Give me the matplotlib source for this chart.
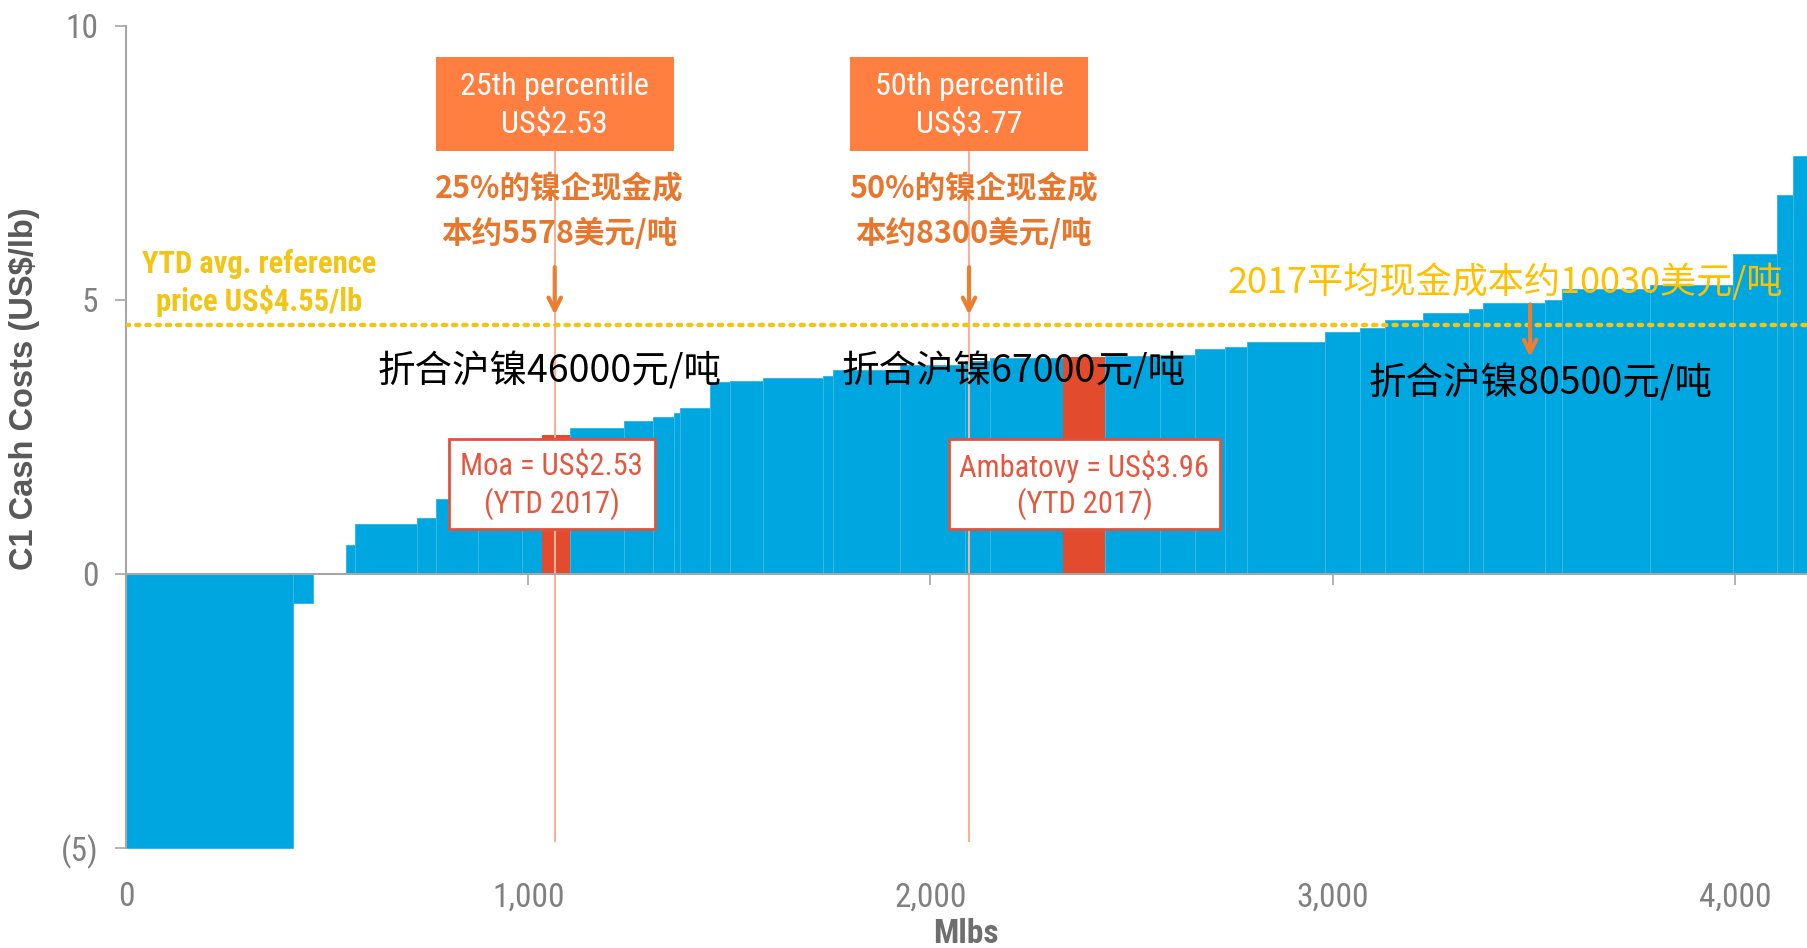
import matplotlib
matplotlib.use("Agg")
import matplotlib.pyplot as plt
import numpy as np
from matplotlib import font_manager
from matplotlib.patches import Rectangle

# ---- data -------------------------------------------------------------
capacity = [414, 50, 83, 23, 154, 48, 103, 109, 50, 71, 133, 73, 51, 15, 75,
            50, 83, 149, 25, 165, 162, 62, 181, 106, 136, 87, 75, 53, 195, 87,
            62, 96, 112, 37, 153, 42, 219, 207, 108, 41, 40]          # Mlbs
cash_cost = [-5.0, -0.53, 0.0, 0.53, 0.92, 1.02, 1.36, 1.70, 2.20, 2.53, 2.66,
             2.79, 2.86, 2.94, 3.03, 3.51, 3.53, 3.58, 3.61, 3.73, 3.82, 3.88,
             3.94, 3.96, 3.98, 4.00, 4.11, 4.15, 4.24, 4.42, 4.48, 4.64, 4.77,
             4.84, 4.94, 5.00, 5.20, 5.28, 5.83, 6.92, 7.63]             # US$/lb
highlight_idx = [9, 23]
highlight_names = ["Moa", "Ambatovy"]

pct_x = [1066, 2096]
pct_titles = ["25th percentile", "50th percentile"]
pct_values = [2.53, 3.77]
pct_cn = ["25%的镍企现金成\n本约5578美元/吨", "50%的镍企现金成\n本约8300美元/吨"]
shfe_labels = ["折合沪镍46000元/吨", "折合沪镍67000元/吨", "折合沪镍80500元/吨"]
ref_price = 4.55
avg_cn = "2017平均现金成本约10030美元/吨"

x_ticks = [0, 1000, 2000, 3000, 4000]
x_ticklabels = ["0", "1,000", "2,000", "3,000", "4,000"]
y_ticks = [-5, 0, 5, 10]
y_ticklabels = ["(5)", "0", "5", "10"]

# ---- styling ----------------------------------------------------------
names = {f.name for f in font_manager.fontManager.ttflist}
NARROW = "Roboto Condensed" if "Roboto Condensed" in names else "Liberation Sans"
CJK = ["Noto Sans CJK SC", "DejaVu Sans"]

BLUE = "#00A6DF"
BLUE_EDGE = "#35B9E8"
RED = "#E24B2D"
ORANGE_BOX = "#FF7F41"
ORANGE_TXT = "#E8772E"
ARROW = "#ED7D31"
PCT_LINE = "#F7B196"
YELLOW = "#F2C414"
YELLOW_CN = "#FFC000"
GRAY = "#808080"
AXIS = "#A6A6A6"

W, H = 1808, 948
fig = plt.figure(figsize=(W / 100, H / 100), dpi=100)
ax = fig.add_axes([126 / W, 0.1026, 1 - 126 / W, 0.8700])

lefts = np.concatenate([[0], np.cumsum(capacity)[:-1]])
colors = [RED if i in highlight_idx else BLUE for i in range(len(capacity))]
edges = [RED if i in highlight_idx else BLUE_EDGE for i in range(len(capacity))]
ax.bar(lefts, cash_cost, width=capacity, align="edge", color=colors,
       edgecolor=edges, linewidth=0.7, zorder=2)

ax.set_xlim(0, 4182)
ax.set_ylim(-5.05, 10)

# spines and ticks
for s in ["top", "right"]:
    ax.spines[s].set_visible(False)
ax.spines["left"].set_color(AXIS)
ax.spines["left"].set_linewidth(1.5)
ax.spines["left"].set_bounds(-5, 10)
ax.spines["bottom"].set_position(("data", 0))
ax.spines["bottom"].set_color(AXIS)
ax.spines["bottom"].set_linewidth(1.5)
ax.spines["bottom"].set_zorder(3)
ax.set_xticks(x_ticks)
ax.set_xticklabels([])
ax.tick_params(axis="x", direction="out", length=8, width=1.2, color=AXIS)
ax.set_yticks(y_ticks)
ax.set_yticklabels(y_ticklabels, fontfamily=NARROW, fontsize=24, color=GRAY)
ax.tick_params(axis="y", direction="out", length=8, width=1.2, color=AXIS, pad=12)

sec = ax.secondary_xaxis("bottom")
sec.set_xticks(x_ticks)
sec.set_xticklabels(x_ticklabels, fontfamily=NARROW, fontsize=24, color=GRAY)
sec.tick_params(length=0, pad=22)
sec.spines["bottom"].set_visible(False)

fig.text(966 / W, 1 - 934 / H, "Mlbs", fontfamily=NARROW, fontsize=24,
         fontweight="bold", color="#6E6E6E", ha="center", va="center")
fig.text(25 / W, 1 - 389 / H, "C1 Cash Costs (US$/lb)", fontfamily="Liberation Sans",
         fontsize=23.5, fontweight="bold", color="#595959", rotation=90,
         ha="center", va="center")

# reference price line
ax.axhline(ref_price, color=YELLOW, linewidth=3.2, linestyle=(0, (0.7, 1.6)),
           dash_capstyle="round", zorder=4)
ax.text(331, 5.65, "YTD avg. reference", fontfamily=NARROW, fontsize=22,
        fontweight="bold", color=YELLOW, ha="center", va="center", zorder=6)
ax.text(331, 4.99, "price US$4.55/lb", fontfamily=NARROW, fontsize=22,
        fontweight="bold", color=YELLOW, ha="center", va="center", zorder=6)

# percentile markers
box_half = 296
for px, title, val, cn in zip(pct_x, pct_titles, pct_values, pct_cn):
    ax.plot([px, px], [-4.88, 7.72], color=PCT_LINE, linewidth=1.5, zorder=3)
    ax.add_patch(Rectangle((px - box_half, 7.72), 2 * box_half, 1.71,
                           facecolor=ORANGE_BOX, edgecolor="none", zorder=5))
    ax.text(px, 8.90, title, fontfamily=NARROW, fontsize=23, color="white",
            ha="center", va="center", zorder=6)
    ax.text(px, 8.21, f"US${val:.2f}", fontfamily=NARROW, fontsize=23,
            color="white", ha="center", va="center", zorder=6)
    line1, line2 = cn.split("\n")
    ax.text(px + 12, 7.01, line1, family=CJK, fontsize=22, fontweight="bold",
            color=ORANGE_TXT, ha="center", va="center", zorder=6)
    ax.text(px + 12, 6.21, line2, family=CJK, fontsize=22, fontweight="bold",
            color=ORANGE_TXT, ha="center", va="center", zorder=6)
    ax.annotate("", xy=(px, 4.68), xytext=(px, 5.65),
                arrowprops=dict(arrowstyle="->,head_length=0.9,head_width=0.45",
                                color=ARROW, lw=3), zorder=6)

# highlighted mine labels
label_boxes = [(802, 1315), (2046, 2720)]
for idx, name, (x0, x1) in zip(highlight_idx, highlight_names, label_boxes):
    ax.add_patch(Rectangle((x0, 0.82), x1 - x0, 1.65, facecolor="white",
                           edgecolor="#E0533A", linewidth=2, zorder=5))
    xc = (x0 + x1) / 2
    ax.text(xc, 1.96, f"{name} = US${cash_cost[idx]:.2f}", fontfamily=NARROW,
            fontsize=22, color="#E5573F", ha="center", va="center", zorder=6)
    ax.text(xc, 1.28, "(YTD 2017)", fontfamily=NARROW, fontsize=22,
            color="#E5573F", ha="center", va="center", zorder=6)

# SHFE-equivalent annotations
for (x, y), txt in zip([(1053, 3.68), (2207, 3.68), (3518, 3.47)], shfe_labels):
    ax.text(x, y, txt, family=CJK, fontsize=27, fontweight="medium", color="black",
            ha="center", va="center", zorder=7)

ax.text(3429, 5.32, avg_cn, family=CJK, fontsize=26, fontweight="medium",
        color=YELLOW_CN, ha="center", va="center", zorder=7)
ax.annotate("", xy=(3491, 3.91), xytext=(3491, 4.97),
            arrowprops=dict(arrowstyle="->,head_length=0.9,head_width=0.45",
                            color=ARROW, lw=3), zorder=6)

fig.savefig("out.png", dpi=100, facecolor="white")
